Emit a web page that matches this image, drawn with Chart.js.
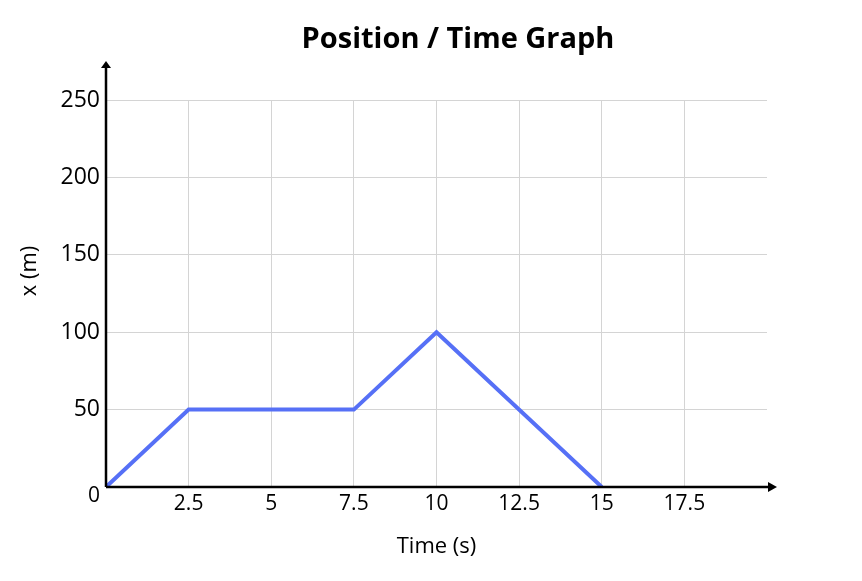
<!DOCTYPE html>
<html>
<head>
<meta charset="utf-8">
<script src="https://cdn.jsdelivr.net/npm/chart.js@4.4.1/dist/chart.umd.min.js"></script>
<style>
  html, body { margin: 0; padding: 0; background: #fff; }
  canvas { display: block; }
</style>
</head>
<body>
<canvas id="chart" width="862" height="581"></canvas>
<script>
// Position / Time graph
const TITLE = 'Position / Time Graph';
const X_LABEL = 'Time (s)';
const Y_LABEL = 'x (m)';
const times = [0, 2.5, 7.5, 10, 15];
const positions = [0, 50, 50, 100, 0];
const xRange = [0, 20];
const yRange = [0, 250];

const FONT = '"Open Sans", "Noto Sans", sans-serif';

// axes with arrows, titles and the lone "0" at the origin
const decor = {
  id: 'decor',
  afterDraw(chart) {
    const { ctx, chartArea: a, scales } = chart;
    const ox = scales.x.getPixelForValue(0);
    const oy = scales.y.getPixelForValue(0);
    ctx.save();
    ctx.strokeStyle = '#000';
    ctx.fillStyle = '#000';
    ctx.lineWidth = 2.5;
    ctx.beginPath();
    ctx.moveTo(ox, oy);
    ctx.lineTo(ox, a.top - 34);
    ctx.moveTo(ox, oy);
    ctx.lineTo(a.right + 4, oy);
    ctx.stroke();
    // arrow heads
    ctx.beginPath();
    ctx.moveTo(ox, a.top - 39);
    ctx.lineTo(ox - 5, a.top - 32);
    ctx.lineTo(ox + 5, a.top - 32);
    ctx.closePath();
    ctx.fill();
    ctx.beginPath();
    ctx.moveTo(a.right + 10, oy);
    ctx.lineTo(a.right + 1, oy - 5);
    ctx.lineTo(a.right + 1, oy + 5);
    ctx.closePath();
    ctx.fill();

    ctx.font = '21px ' + FONT;
    ctx.textAlign = 'right';
    ctx.textBaseline = 'middle';
    ctx.fillText('0', ox - 6, oy + 9);

    ctx.font = 'bold 29px ' + FONT;
    ctx.textAlign = 'center';
    ctx.fillText(TITLE, 458, 40);

    ctx.font = '22px ' + FONT;
    ctx.translate(30, 271);
    ctx.rotate(-Math.PI / 2);
    ctx.fillText(Y_LABEL, 0, 0);
    ctx.restore();
  }
};

const ctx = document.getElementById('chart').getContext('2d');
new Chart(ctx, {
  type: 'line',
  data: {
    datasets: [{
      data: times.map((t, i) => ({ x: t, y: positions[i] })),
      borderColor: 'rgb(86,112,246)',
      borderWidth: 4,
      pointRadius: 0,
      tension: 0,
      fill: false
    }]
  },
  options: {
    responsive: false,
    devicePixelRatio: 1,
    animation: false,
    layout: { padding: { top: 100, left: 18, right: 95, bottom: 21 } },
    plugins: {
      legend: { display: false },
      title: { display: false },
      tooltip: { enabled: false }
    },
    scales: {
      x: {
        type: 'linear',
        min: xRange[0],
        max: xRange[1],
        border: { display: false },
        grid: {
          drawTicks: false,
          color: c => (c.tick && (c.tick.value === xRange[0] || c.tick.value === xRange[1])) ? 'rgba(0,0,0,0)' : '#d4d4d4'
        },
        ticks: {
          stepSize: 2.5,
          autoSkip: false,
          maxRotation: 0,
          padding: 4,
          color: '#000',
          font: { family: FONT, size: 21 },
          callback: v => (v === xRange[0] || v === xRange[1]) ? '' : String(v)
        },
        title: {
          display: true,
          text: X_LABEL,
          color: '#000',
          padding: 0,
          font: { family: FONT, size: 22 }
        },
        afterFit: s => { s.height = 73; s.paddingLeft = 0; s.paddingRight = 0; }
      },
      y: {
        min: yRange[0],
        max: yRange[1],
        border: { display: false },
        grid: {
          drawTicks: false,
          color: c => (c.tick && c.tick.value === yRange[0]) ? 'rgba(0,0,0,0)' : '#d4d4d4'
        },
        ticks: {
          stepSize: 50,
          padding: 6,
          color: '#000',
          font: { family: FONT, size: 23 },
          callback: v => v === yRange[0] ? '' : String(v)
        },
        title: { display: false },
        afterFit: s => { s.width = 88; s.paddingTop = 0; s.paddingBottom = 0; }
      }
    }
  },
  plugins: [decor]
});
</script>
</body>
</html>
